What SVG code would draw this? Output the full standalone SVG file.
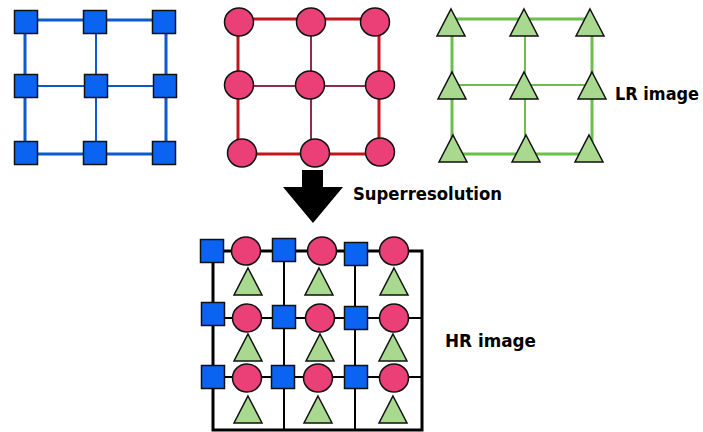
<svg xmlns="http://www.w3.org/2000/svg" width="703" height="432" viewBox="0 0 703 432">
<style>
.sq{fill:#0B63F2;stroke:#111;stroke-width:1.5}
.ci{fill:#EB3F78;stroke:#111;stroke-width:1.5}
.tr{fill:#A8D98E;stroke:#111;stroke-width:1.5}
.bl{stroke:#0A5BD0;fill:none}
.rd{stroke:#C0171C;fill:none}
.rdi{stroke:#8C2D4E;fill:none}
.gr{stroke:#6BBF4C;fill:none}
.bk{stroke:#000;fill:none}
.lbl{font-family:"DejaVu Sans","Liberation Sans",sans-serif;font-weight:bold;fill:#000}
</style>
<defs>
<rect id="s" class="sq" x="-11.5" y="-11.5" width="23" height="23"/>
<ellipse id="c" class="ci" rx="14.5" ry="14"/>
<polygon id="t" class="tr" points="0,-14 14,13 -14,13"/>
</defs>
<g id="connectors">
<path class="bl" stroke-width="3" d="M25,20 H166 M25,154 H166 M25,20 V154 M166,20 V154"/>
<path class="bl" stroke-width="2" d="M25,86 H166 M96,20 V154"/>
<path class="rd" stroke-width="3" d="M238,19 H379 M238,154 H379 M238,19 V154 M379,19 V154"/>
<path class="rdi" stroke-width="2" d="M238,86 H379 M311,19 V154"/>
<path class="gr" stroke-width="3" d="M452,19 H592 M452,154 H592 M452,19 V154 M592,19 V154"/>
<path class="gr" stroke-width="2" d="M452,85 H592 M525,19 V154"/>
<path class="bk" stroke-width="3" d="M212,251 H422 V430 H213 V251"/>
<path class="bk" stroke-width="2" d="M213,318 H422 M213,377 H422 M284,251 V430 M355,251 V430"/>
</g>
<g id="lr-blue">
<use href="#s" x="26" y="22"/><use href="#s" x="95" y="22"/><use href="#s" x="164" y="22"/>
<use href="#s" x="26" y="86"/><use href="#s" x="96" y="86"/><use href="#s" x="165" y="86"/>
<use href="#s" x="26" y="153"/><use href="#s" x="95" y="153"/><use href="#s" x="164" y="153"/>
</g>
<g id="lr-red">
<use href="#c" x="239" y="22"/><use href="#c" x="311" y="22"/><use href="#c" x="375" y="22"/>
<use href="#c" x="239" y="85"/><use href="#c" x="310" y="85"/><use href="#c" x="380" y="85"/>
<use href="#c" x="242" y="153"/><use href="#c" x="315" y="153"/><use href="#c" x="380" y="152"/>
</g>
<g id="lr-green">
<use href="#t" x="451" y="23"/><use href="#t" x="524" y="23"/><use href="#t" x="590" y="23"/>
<use href="#t" x="452" y="86"/><use href="#t" x="524" y="86"/><use href="#t" x="592" y="86"/>
<use href="#t" x="453" y="149"/><use href="#t" x="526" y="149"/><use href="#t" x="589" y="149"/>
</g>
<g id="lr-label"><text class="lbl" x="615" y="100" font-size="17" textLength="84" lengthAdjust="spacingAndGlyphs">LR image</text></g>
<g id="arrow">
<polygon points="302,170 323,170 323,187 343,187 313,223 283,187 302,187" fill="#000"/>
</g>
<g id="sr-label"><text class="lbl" x="353" y="200" font-size="17" textLength="149" lengthAdjust="spacingAndGlyphs">Superresolution</text></g>
<g id="hr-squares">
<use href="#s" x="212" y="251"/><use href="#s" x="284" y="250"/><use href="#s" x="356" y="254"/>
<use href="#s" x="213" y="314"/><use href="#s" x="284" y="317"/><use href="#s" x="356" y="318"/>
<use href="#s" x="213" y="377"/><use href="#s" x="283" y="377"/><use href="#s" x="356" y="377"/>
</g>
<g id="hr-circles">
<use href="#c" x="246" y="251"/><use href="#c" x="322" y="251"/><use href="#c" x="394" y="251"/>
<use href="#c" x="247" y="318"/><use href="#c" x="320" y="318"/><use href="#c" x="394" y="318"/>
<use href="#c" x="247" y="378"/><use href="#c" x="318" y="378"/><use href="#c" x="394" y="378"/>
</g>
<g id="hr-triangles">
<use href="#t" x="248" y="282"/><use href="#t" x="319" y="282"/><use href="#t" x="394" y="282"/>
<use href="#t" x="248" y="348"/><use href="#t" x="320" y="348"/><use href="#t" x="393" y="348"/>
<use href="#t" x="248" y="410"/><use href="#t" x="318" y="410"/><use href="#t" x="393" y="410"/>
</g>
<g id="hr-label"><text class="lbl" x="445" y="347" font-size="17" textLength="91" lengthAdjust="spacingAndGlyphs">HR image</text></g>
</svg>
